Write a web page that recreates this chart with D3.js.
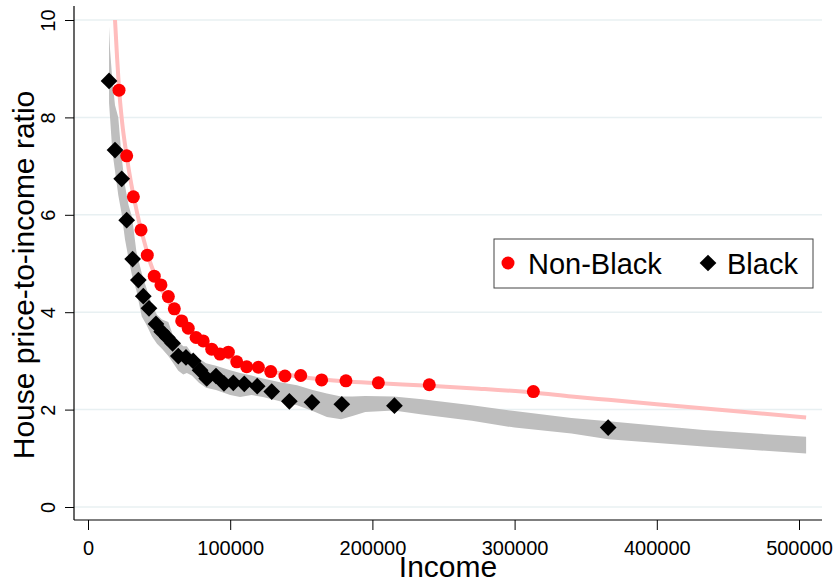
<!DOCTYPE html>
<html>
<head>
<meta charset='utf-8'>
<title>House price-to-income ratio by income</title>
<style>
  body { margin: 0; background: #fff; }
  svg { display: block; font-family: "Liberation Sans", Arial, sans-serif; }
</style>
</head>
<body>
<script src="https://d3js.org/d3.v7.min.js"></script>
<div id="container"></div>
<script>
// binned scatter, Non-Black households
var nonBlackIncome = [21800, 27200, 31900, 37300, 41700, 46600, 51300, 56500, 60700, 65900, 70500, 76000, 81000, 87000,
                      92800, 98700, 104600, 111600, 119800, 128500, 138500, 149600, 164300, 181400, 204200, 240000, 313200];
var nonBlackRatio = [8.56, 7.21, 6.37, 5.69, 5.17, 4.74, 4.56, 4.32, 4.07, 3.82, 3.67, 3.48, 3.41, 3.24,
                     3.14, 3.18, 2.98, 2.88, 2.87, 2.78, 2.69, 2.70, 2.61, 2.59, 2.55, 2.51, 2.37];

// binned scatter, Black households
var blackIncome = [14800, 19000, 23700, 27200, 31400, 35400, 38900, 42900, 47800, 51800, 55800, 59500, 63500, 68900,
                   74000, 78800, 83500, 90000, 95600, 102200, 109900, 119000, 129200, 141600, 157500, 178500, 215500, 365800];
var blackRatio = [8.75, 7.33, 6.74, 5.89, 5.09, 4.66, 4.33, 4.08, 3.76, 3.60, 3.48, 3.36, 3.10, 3.07,
                  3.00, 2.81, 2.64, 2.69, 2.54, 2.55, 2.53, 2.48, 2.37, 2.17, 2.15, 2.11, 2.08, 1.63];

// smoothed fit, Non-Black (pink line)
var nbFitIncome = [19000, 20500, 21800, 24000, 27000, 30000, 33000, 36000, 40000, 44000, 48000, 52000, 57000, 62000,
                   67000, 72000, 78000, 85000, 92000, 100000, 110000, 120000, 130000, 140000, 150000, 165000, 180000,
                   205000, 240000, 275000, 313000, 340000, 366000, 400000, 450000, 505000];
var nbFitRatio = [10.0, 9.2, 8.6, 7.9, 7.25, 6.7, 6.25, 5.85, 5.4, 5.0, 4.7, 4.45, 4.2, 4.0,
                  3.82, 3.65, 3.48, 3.32, 3.18, 3.05, 2.94, 2.85, 2.78, 2.72, 2.67, 2.62, 2.58,
                  2.54, 2.49, 2.43, 2.35, 2.27, 2.2, 2.11, 1.98, 1.84];

// confidence band, Black (gray area)
var blackCiIncome = [14800, 15500, 17100, 19000, 21300, 23600, 26000, 28500, 31000, 34000, 37800, 41000, 45000, 48500,
                     52000, 56500, 60000, 63500, 67000, 69500, 73000, 78000, 83000, 90000, 100000, 107000, 115000,
                     123000, 135000, 147000, 158000, 168000, 178000, 186000, 195000, 215000, 235000, 270000, 300000,
                     340000, 366000, 433000, 505000];
var blackCiUpper = [9.86, 9.4, 8.77, 8.25, 8.0, 7.2, 6.6, 6.2, 5.95, 5.25, 4.8, 4.5, 4.15, 3.95,
                    3.85, 3.8, 3.5, 3.4, 3.3, 3.3, 3.15, 3.05, 2.95, 2.9, 2.81, 2.75, 2.7,
                    2.64, 2.56, 2.5, 2.4, 2.33, 2.27, 2.27, 2.28, 2.27, 2.21, 2.09, 1.97,
                    1.83, 1.76, 1.58, 1.44];
var blackCiLower = [8.3, 8.0, 7.3, 6.9, 6.4, 6.03, 5.5, 5.1, 4.75, 4.45, 3.91, 3.75, 3.5, 3.35,
                    3.25, 3.1, 2.95, 2.8, 2.72, 2.75, 2.7, 2.55, 2.45, 2.4, 2.3, 2.26, 2.3,
                    2.26, 2.17, 2.09, 1.97, 1.85, 1.8, 1.87, 1.95, 1.98, 1.9, 1.77, 1.63,
                    1.51, 1.39, 1.24, 1.1];

var xTicks = [0, 100000, 200000, 300000, 400000, 500000];
var yTicks = [0, 2, 4, 6, 8, 10];
var seriesNames = ["Non-Black", "Black"];

const width = 838,
      height = 584,
      frame = { left: 74, right: 822, top: 6, bottom: 520 };

var svg = d3.select("#container").append("svg")
    .attr("width", width)
    .attr("height", height);

var x = d3.scaleLinear()
    .domain([0, 500000])
    .range([88, 799]);

var y = d3.scaleLinear()
    .domain([0, 10])
    .range([507, 20]);

// gridlines
svg.append("g")
  .selectAll("line")
  .data(yTicks)
  .enter().append("line")
    .attr("x1", frame.left)
    .attr("x2", frame.right)
    .attr("y1", d => y(d))
    .attr("y2", d => y(d))
    .style("stroke", "#e8f0f2")
    .style("stroke-width", 1.5);

// gray band for Black
var band = blackCiIncome.map((v, i) => ({ inc: v, lo: blackCiLower[i], hi: blackCiUpper[i] }));
svg.append("path")
    .datum(band)
    .attr("d", d3.area()
        .x(d => x(d.inc))
        .y0(d => y(d.lo))
        .y1(d => y(d.hi)))
    .style("fill", "#bebebe");

// pink fit for Non-Black
var fit = nbFitIncome.map((v, i) => ({ inc: v, r: nbFitRatio[i] }));
svg.append("path")
    .datum(fit)
    .attr("d", d3.line()
        .x(d => x(d.inc))
        .y(d => y(d.r))
        .curve(d3.curveMonotoneX))
    .style("fill", "none")
    .style("stroke", "#ffbdbd")
    .style("stroke-width", 4);

// scatter points
var diamond = d3.symbol().type(d3.symbolSquare).size(140);

svg.append("g")
  .selectAll("circle")
  .data(nonBlackIncome)
  .enter().append("circle")
    .attr("cx", d => x(d))
    .attr("cy", (d, i) => y(nonBlackRatio[i]))
    .attr("r", 6.5)
    .style("fill", "#ff0000");

svg.append("g")
  .selectAll("path")
  .data(blackIncome)
  .enter().append("path")
    .attr("d", diamond)
    .attr("transform", (d, i) => "translate(" + x(d) + "," + y(blackRatio[i]) + ") rotate(45)")
    .style("fill", "#000");

// axes
var xAxis = svg.append("g")
    .attr("transform", "translate(0," + frame.bottom + ")")
    .call(d3.axisBottom(x).tickValues(xTicks).tickFormat(d3.format("d")).tickSize(10).tickSizeOuter(0));
xAxis.select(".domain").remove();
xAxis.selectAll("text")
    .attr("y", 35)
    .attr("dy", 0)
    .style("font-size", "20px")
    .style("font-family", "Liberation Sans, Arial, sans-serif");

var yAxis = svg.append("g")
    .attr("transform", "translate(" + frame.left + ",0)")
    .call(d3.axisLeft(y).tickValues(yTicks).tickSize(9).tickSizeOuter(0));
yAxis.select(".domain").remove();
yAxis.selectAll("text")
    .attr("transform", "rotate(-90)")
    .attr("x", 0)
    .attr("y", -19)
    .attr("dy", 0)
    .attr("text-anchor", "middle")
    .style("font-size", "20px")
    .style("font-family", "Liberation Sans, Arial, sans-serif");

svg.selectAll(".tick line").style("stroke", "#000");

svg.append("line")
    .attr("x1", frame.left).attr("x2", frame.right)
    .attr("y1", frame.bottom).attr("y2", frame.bottom)
    .style("stroke", "#000").style("stroke-width", 1.2);
svg.append("line")
    .attr("x1", frame.left).attr("x2", frame.left)
    .attr("y1", frame.top).attr("y2", frame.bottom)
    .style("stroke", "#000").style("stroke-width", 1.2);

// axis titles
svg.append("text")
    .attr("text-anchor", "middle")
    .attr("x", (frame.left + frame.right) / 2)
    .attr("y", 577)
    .style("font-size", "30px")
    .text("Income");

svg.append("text")
    .attr("text-anchor", "middle")
    .attr("transform", "translate(34," + 275 + ") rotate(-90)")
    .style("font-size", "30px")
    .text("House price-to-income ratio");

// legend
var legend = svg.append("g").attr("transform", "translate(494,239)");
legend.append("rect")
    .attr("width", 319)
    .attr("height", 49)
    .style("fill", "#fff")
    .style("stroke", "#444")
    .style("stroke-width", 1);
legend.append("circle")
    .attr("cx", 14).attr("cy", 24).attr("r", 6.5)
    .style("fill", "#ff0000");
legend.append("text")
    .attr("x", 34).attr("y", 35)
    .style("font-size", "29px")
    .text(seriesNames[0]);
legend.append("path")
    .attr("d", diamond)
    .attr("transform", "translate(214,24) rotate(45)")
    .style("fill", "#000");
legend.append("text")
    .attr("x", 233).attr("y", 35)
    .style("font-size", "29px")
    .text(seriesNames[1]);
</script>
</body>
</html>
